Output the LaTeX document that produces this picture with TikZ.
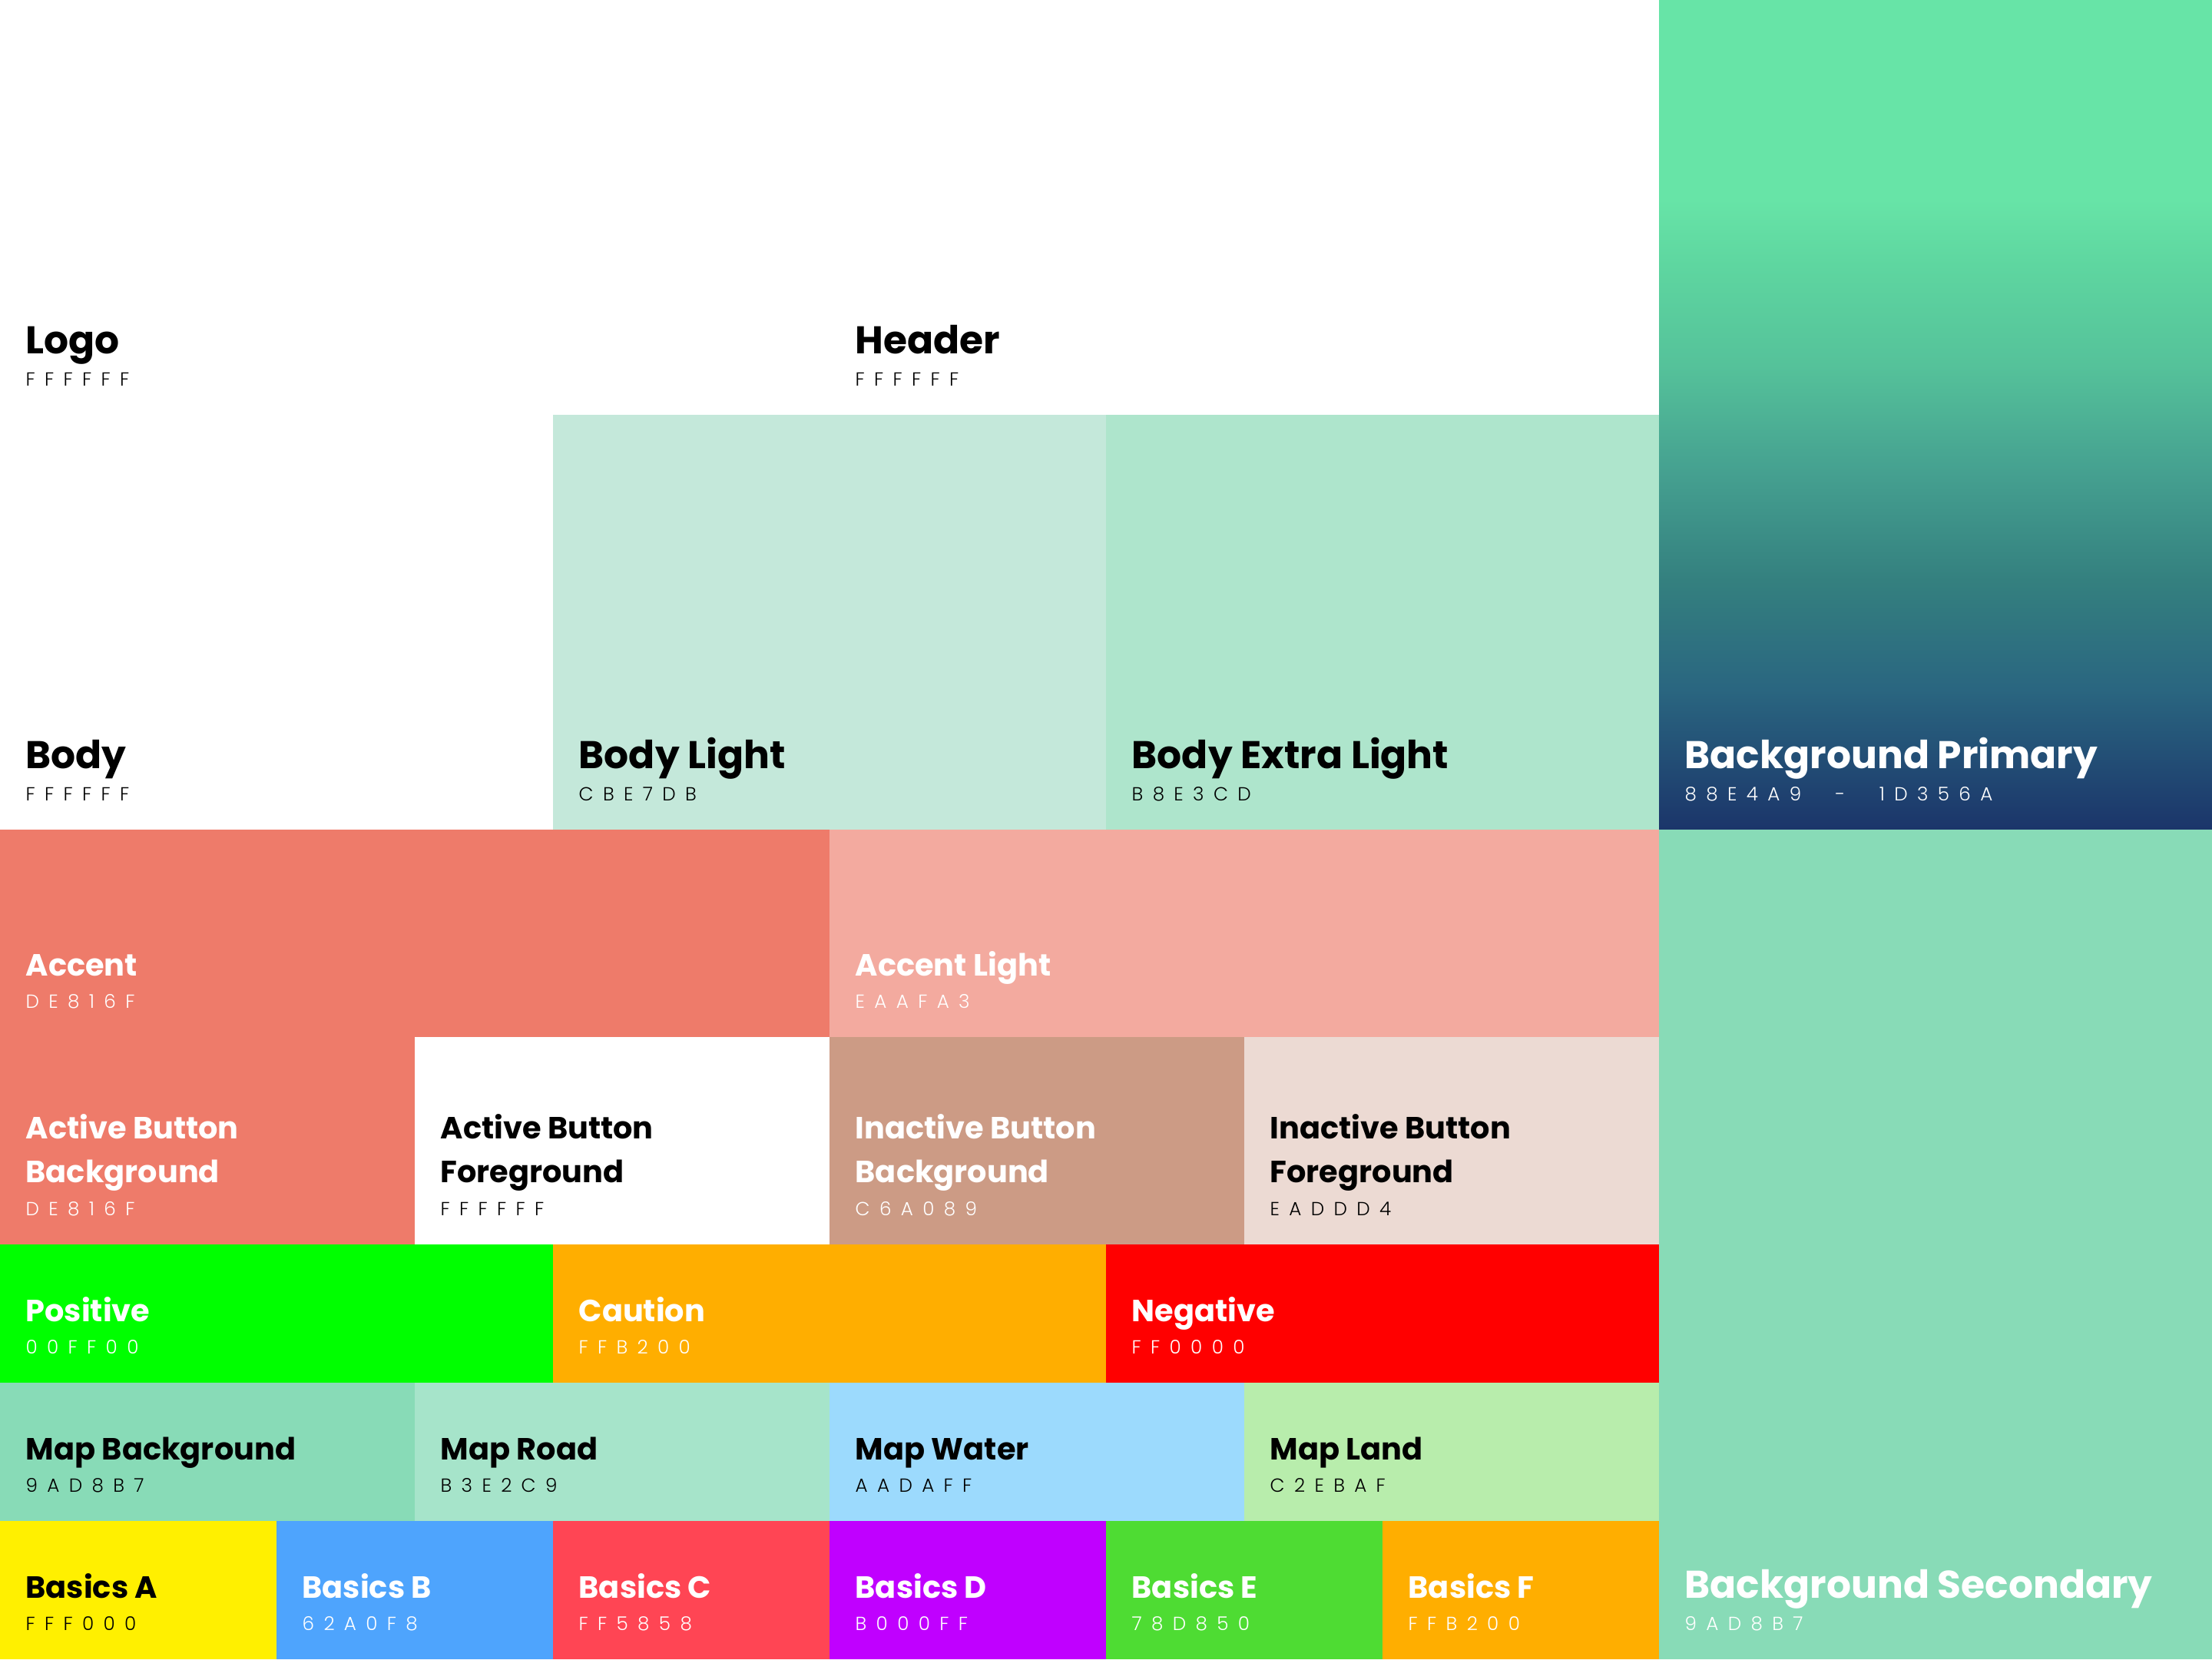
\documentclass[tikz,border=0pt]{standalone}
\usepackage{fontspec}
\setmainfont{Poppins}
\newfontfamily\titlefont{Poppins Bold}
\newfontfamily\hexfont{Poppins Light}[LetterSpace=50]

\definecolor{mint}{HTML}{67E4A7}
\definecolor{mintB}{HTML}{5ED6A0}
\definecolor{mintC}{HTML}{55C29A}
\definecolor{tealA}{HTML}{45A090}
\definecolor{tealB}{HTML}{34807F}
\definecolor{tealC}{HTML}{2A6680}
\definecolor{navy}{HTML}{1B356A}
\definecolor{bodylight}{HTML}{C4E8DA}
\definecolor{bodyxlight}{HTML}{AEE5CC}
\definecolor{accent}{HTML}{EE7B6A}
\definecolor{accentlight}{HTML}{F3AA9F}
\definecolor{inactivebg}{HTML}{CC9B85}
\definecolor{inactivefg}{HTML}{ECDAD3}
\definecolor{positive}{HTML}{00FF00}
\definecolor{caution}{HTML}{FFAE00}
\definecolor{negative}{HTML}{FF0000}
\definecolor{mapbg}{HTML}{88DBB7}
\definecolor{maproad}{HTML}{A6E4CA}
\definecolor{mapwater}{HTML}{9CDAFD}
\definecolor{mapland}{HTML}{B8EDAC}
\definecolor{basicsA}{HTML}{FFF000}
\definecolor{basicsB}{HTML}{4EA4FD}
\definecolor{basicsC}{HTML}{FF4554}
\definecolor{basicsD}{HTML}{C000FF}
\definecolor{basicsE}{HTML}{4EDC33}
\definecolor{basicsF}{HTML}{FFAE00}

\pgfdeclareverticalshading{bgprimary}{100bp}{color(0bp)=(navy); color(25bp)=(navy);
  color(33.5bp)=(tealC); color(40bp)=(tealB); color(46.5bp)=(tealA);
  color(53bp)=(mintC); color(59bp)=(mintB); color(63bp)=(mint); color(100bp)=(mint)}

\tikzset{
  titlebig/.style={anchor=base west,inner sep=0pt,font=\titlefont\fontsize{7.95}{7.95}\selectfont},
  titlemid/.style={anchor=base west,inner sep=0pt,font=\titlefont\fontsize{6.3}{6.3}\selectfont},
  titletwo/.style={anchor=base west,inner sep=0pt,align=left,font=\titlefont\fontsize{6.3}{9}\selectfont},
  hexcode/.style={anchor=base west,inner sep=0pt,font=\hexfont\fontsize{3.9}{3.9}\selectfont},
}

\begin{document}
\begin{tikzpicture}
\useasboundingbox (0,0) rectangle (16,12);

% white band on top
\fill[white] (0,6) rectangle (12,12);
\node[titlebig] (logo) at (0.18,9.44) {Logo};
\node[hexcode] (logohex) at (0.18,9.21) {FFFFFF};
\node[titlebig] (header) at (6.18,9.44) {Header};
\node[hexcode] (headerhex) at (6.18,9.21) {FFFFFF};

% body row
\node[titlebig] (body) at (0.18,6.44) {Body};
\node[hexcode] (bodyhex) at (0.18,6.21) {FFFFFF};
\fill[bodylight] (4,6) rectangle (8,9);
\node[titlebig] (bodylight) at (4.18,6.44) {Body Light};
\node[hexcode] (bodylighthex) at (4.18,6.21) {CBE7DB};
\fill[bodyxlight] (8,6) rectangle (12,9);
\node[titlebig] (bodyxlight) at (8.18,6.44) {Body Extra Light};
\node[hexcode] (bodyxlighthex) at (8.18,6.21) {B8E3CD};

% backgrounds
\shade[shading=bgprimary] (12,6) rectangle (16,12);
\node[titlebig,white] (bgprimary) at (12.18,6.44) {Background Primary};
\node[hexcode,white] (bgprimaryhex) at (12.18,6.21) {88E4A9\hspace{1.8em}-\hspace{1.8em}1D356A};
\fill[mapbg] (12,0) rectangle (16,6);
\node[titlebig,white] (bgsecondary) at (12.18,0.44) {Background Secondary};
\node[hexcode,white] (bgsecondaryhex) at (12.18,0.21) {9AD8B7};

% accents
\fill[accent] (0,4.5) rectangle (6,6);
\node[titlemid,white] (accent) at (0.18,4.94) {Accent};
\node[hexcode,white] (accenthex) at (0.18,4.71) {DE816F};
\fill[accentlight] (6,4.5) rectangle (12,6);
\node[titlemid,white] (accentlight) at (6.18,4.94) {Accent Light};
\node[hexcode,white] (accentlighthex) at (6.18,4.71) {EAAFA3};

% buttons (base = last line)
\fill[accent] (0,3) rectangle (3,4.5);
\node[titletwo,white] (activebg) at (0.18,3.45) {Active Button\\Background};
\node[hexcode,white] (activebghex) at (0.18,3.21) {DE816F};
\fill[white] (3,3) rectangle (6,4.5);
\node[titletwo] (activefg) at (3.18,3.45) {Active Button\\Foreground};
\node[hexcode] (activefghex) at (3.18,3.21) {FFFFFF};
\fill[inactivebg] (6,3) rectangle (9,4.5);
\node[titletwo,white] (inactivebg) at (6.18,3.45) {Inactive Button\\Background};
\node[hexcode,white] (inactivebghex) at (6.18,3.21) {C6A089};
\fill[inactivefg] (9,3) rectangle (12,4.5);
\node[titletwo] (inactivefg) at (9.18,3.45) {Inactive Button\\Foreground};
\node[hexcode] (inactivefghex) at (9.18,3.21) {EADDD4};

% states
\fill[positive] (0,2) rectangle (4,3);
\node[titlemid,white] (positive) at (0.18,2.44) {Positive};
\node[hexcode,white] (positivehex) at (0.18,2.21) {00FF00};
\fill[caution] (4,2) rectangle (8,3);
\node[titlemid,white] (caution) at (4.18,2.44) {Caution};
\node[hexcode,white] (cautionhex) at (4.18,2.21) {FFB200};
\fill[negative] (8,2) rectangle (12,3);
\node[titlemid,white] (negative) at (8.18,2.44) {Negative};
\node[hexcode,white] (negativehex) at (8.18,2.21) {FF0000};

% map
\fill[mapbg] (0,1) rectangle (3,2);
\node[titlemid] (mapbg) at (0.18,1.44) {Map Background};
\node[hexcode] (mapbghex) at (0.18,1.21) {9AD8B7};
\fill[maproad] (3,1) rectangle (6,2);
\node[titlemid] (maproad) at (3.18,1.44) {Map Road};
\node[hexcode] (maproadhex) at (3.18,1.21) {B3E2C9};
\fill[mapwater] (6,1) rectangle (9,2);
\node[titlemid] (mapwater) at (6.18,1.44) {Map Water};
\node[hexcode] (mapwaterhex) at (6.18,1.21) {AADAFF};
\fill[mapland] (9,1) rectangle (12,2);
\node[titlemid] (mapland) at (9.18,1.44) {Map Land};
\node[hexcode] (maplandhex) at (9.18,1.21) {C2EBAF};

% basics
\foreach \x/\n/\tc/\hex in {0/A/black/FFF000,2/B/white/62A0F8,4/C/white/FF5858,
                            6/D/white/B000FF,8/E/white/78D850,10/F/white/FFB200}{
  \fill[basics\n] (\x,0) rectangle (\x+2,1);
  \node[titlemid,\tc] (basics\n) at (\x+0.18,0.44) {Basics \n};
  \node[hexcode,\tc] (basics\n hex) at (\x+0.18,0.21) {\hex};
}

\end{tikzpicture}
\end{document}
